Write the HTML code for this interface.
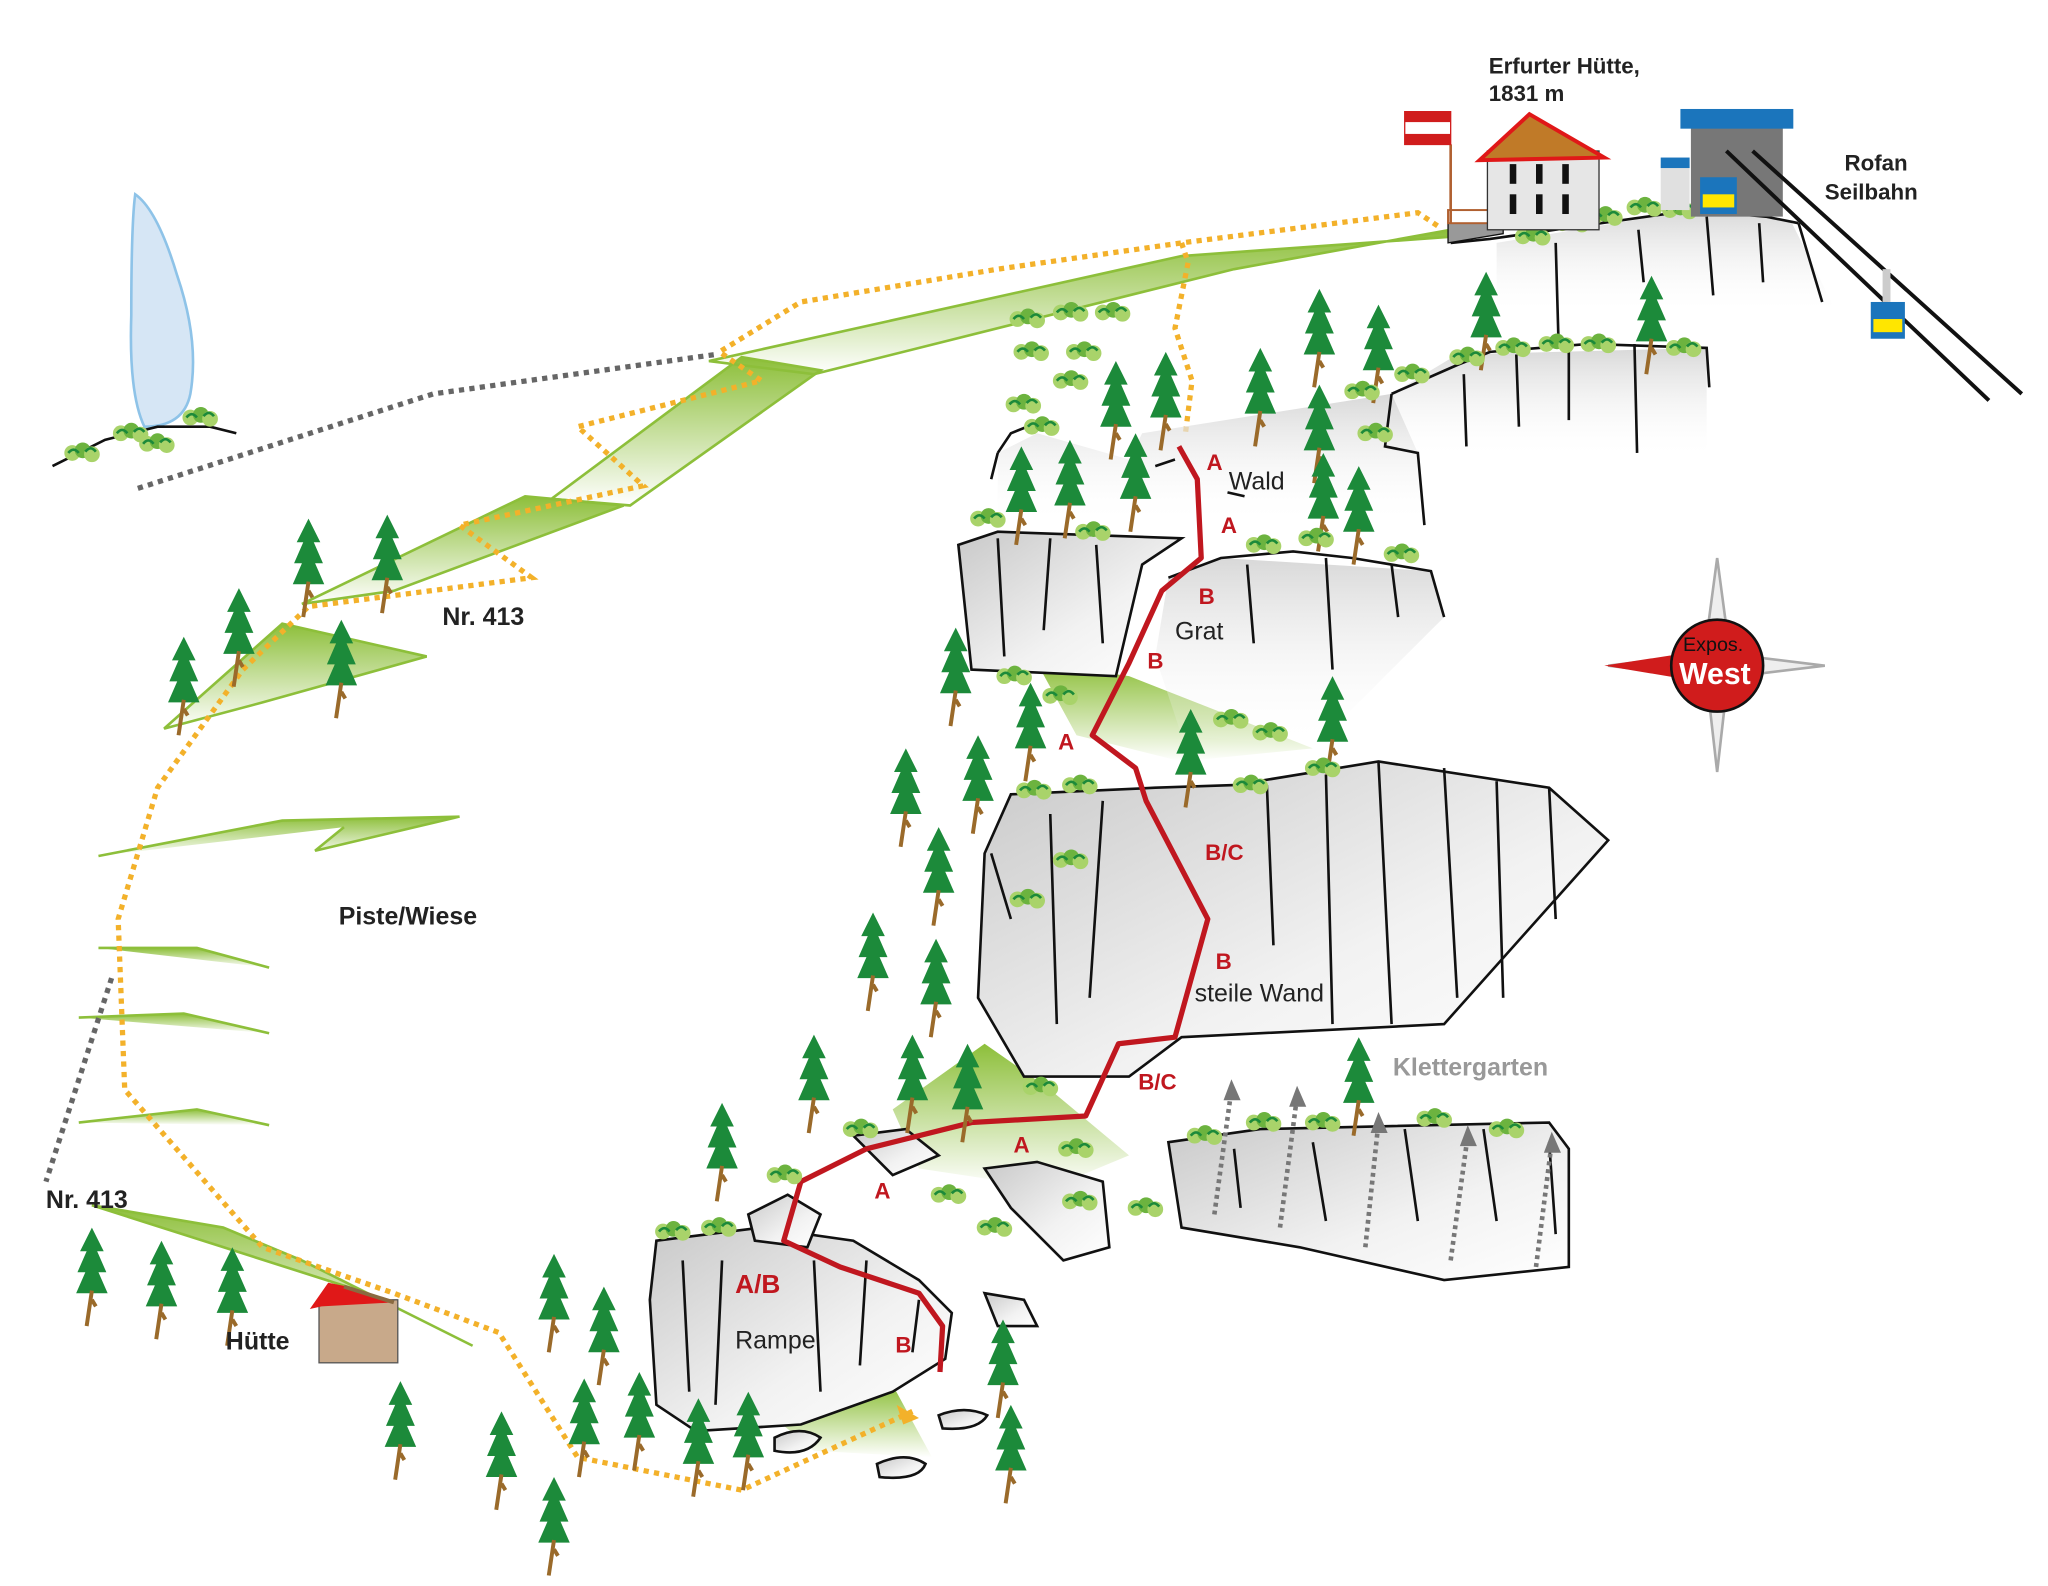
<!DOCTYPE html>
<html><head><meta charset="utf-8"><style>
html,body{margin:0;padding:0;background:#fff;}
svg{display:block}
text{font-family:"Liberation Sans",Arial,sans-serif;}
</style></head><body>
<svg width="2048" height="1586" viewBox="0 0 1560 1208" preserveAspectRatio="none" xmlns="http://www.w3.org/2000/svg">
<defs>
<linearGradient id="g" x1="0" y1="0" x2="0" y2="1"><stop offset="0" stop-color="#8dbf3a"/><stop offset="1" stop-color="#8dbf3a" stop-opacity="0"/></linearGradient>
<linearGradient id="r" x1="0" y1="0" x2="1" y2="1"><stop offset="0" stop-color="#c9c9c9"/><stop offset="0.6" stop-color="#f2f2f2"/><stop offset="1" stop-color="#fff"/></linearGradient>
<linearGradient id="r2" x1="0" y1="0" x2="0" y2="1"><stop offset="0" stop-color="#d8d8d8"/><stop offset="1" stop-color="#fff" stop-opacity="0"/></linearGradient>
<g id="t"><path d="M0,0 L-9,18 L-4,18 L-11,34 L-5,34 L-12,50 L12,50 L5,34 L11,34 L4,18 L9,18 Z" fill="#1c8a3a"/><path d="M0,48 L-4,75 M0,55 L3,60" stroke="#9a6a2a" stroke-width="3" fill="none"/></g>
<g id="b"><circle cx="0" cy="0" r="6" fill="#a9d36a"/><circle cx="8" cy="-2" r="6" fill="#6cb33f"/><circle cx="15" cy="1" r="6" fill="#a9d36a"/><path d="M-3,0 q4,-5 8,0 M10,-1 q4,-5 8,0" stroke="#1c8a3a" stroke-width="2" fill="none"/></g>
</defs>
<path d="M103,148 Q120,160 135,210 Q152,260 145,300 Q140,325 110,325 Q98,300 100,240 Q100,170 103,148Z" fill="#d6e6f5" stroke="#8ec3e8" stroke-width="2"/>
<path d="M40,355 L80,335 L120,325 L160,325 L180,330" stroke="#111" stroke-width="2" fill="none"/>
<path d="M540,275 L900,195 L1110,180 L1105,175 L940,205 L620,285 Z" fill="url(#g)" stroke="#8dbf3a" stroke-width="2"/>
<path d="M420,380 L565,272 L625,282 L480,385 Z" fill="url(#g)" stroke="#8dbf3a" stroke-width="2"/>
<path d="M230,460 L400,378 L475,385 L300,450 Z" fill="url(#g)" stroke="#8dbf3a" stroke-width="2"/>
<path d="M125,555 L215,475 L325,500 L200,535 Z" fill="url(#g)" stroke="#8dbf3a" stroke-width="2"/>
<path d="M75,652 L215,625 L350,622 L240,648 L262,630" fill="url(#g)" stroke="#8dbf3a" stroke-width="2"/>
<path d="M75,722 L150,722 L205,737" fill="url(#g)" stroke="#8dbf3a" stroke-width="2"/>
<path d="M60,775 L140,772 L205,787" fill="url(#g)" stroke="#8dbf3a" stroke-width="2"/>
<path d="M60,855 L150,845 L205,857" fill="url(#g)" stroke="#8dbf3a" stroke-width="2"/>
<path d="M70,918 L170,935 L230,960 L360,1025 L280,985 Z" fill="url(#g)" stroke="#8dbf3a" stroke-width="2"/>
<path d="M790,505 L860,515 L1000,570 L900,580 L820,560 Z" fill="url(#g)"/>
<path d="M680,845 L750,795 L800,830 L860,880 L800,905 L700,890 Z" fill="url(#g)"/>
<path d="M590,1080 L680,1055 L710,1110 L620,1105 Z" fill="url(#g)"/>
<path d="M105,372 L330,300 L545,270" stroke="#666" stroke-width="4" stroke-dasharray="4,4" fill="none"/>
<path d="M85,745 L35,900" stroke="#666" stroke-width="4" stroke-dasharray="4,4" fill="none"/>
<path d="M1095,172 L1080,162 L900,185 L760,205 L610,230 L548,268 L580,290 L440,325 L490,370 L350,400 L405,440 L235,462 L185,510 L120,600 L90,700 L95,830 L200,950 L300,985 L380,1015 L440,1110 L565,1135 L695,1075" stroke="#f3b12a" stroke-width="4" stroke-dasharray="4,4" fill="none"/>
<path d="M900,185 L905,200 L895,250 L908,290 L903,330" stroke="#f3b12a" stroke-width="4" stroke-dasharray="4,4" fill="none"/>
<path d="M683,1070 L700,1080 L688,1085Z" fill="#f3b12a"/>
<g fill="url(#r2)" stroke="none">
<path d="M1140,185 L1290,160 L1345,165 L1365,170 L1400,240 L1140,240 Z"/>
<path d="M1060,300 L1110,270 L1300,265 L1300,350 L1060,350 Z"/>
<path d="M760,345 L790,330 L860,350 L870,330 L1060,300 L1080,345 L1085,400 L760,400Z"/>
<path d="M890,440 L930,425 L1090,435 L1100,470 L1000,570 L900,560 L880,500 Z"/>
</g>
<g fill="url(#r)" stroke="#111" stroke-width="2">
<path d="M730,415 L760,405 L900,410 L870,430 L850,515 L740,510 Z"/>
<path d="M770,605 L880,600 L940,598 L1050,580 L1180,600 L1225,640 L1100,780 L900,790 L860,820 L780,820 L745,760 L750,650 Z"/>
<path d="M890,870 L960,860 L1180,855 L1195,875 L1195,965 L1100,975 L990,950 L900,935 Z"/>
<path d="M500,945 L580,935 L650,945 L700,975 L725,1000 L720,1035 L680,1060 L610,1085 L530,1090 L500,1070 L495,990 Z"/>
<path d="M570,925 L600,910 L625,925 L615,950 L575,945 Z"/>
<path d="M750,890 L790,885 L840,900 L845,950 L810,960 L770,920 Z"/>
<path d="M650,865 L690,860 L715,880 L680,895 Z"/>
<path d="M590,1095 Q610,1085 625,1095 Q615,1110 590,1105Z"/>
<path d="M668,1115 Q690,1105 705,1115 Q700,1128 670,1125Z"/>
<path d="M715,1078 Q735,1070 752,1078 Q745,1090 718,1088Z"/>
<path d="M750,985 L780,990 L790,1010 L760,1010Z"/>
</g>
<g stroke="#111" stroke-width="2" fill="none">
<path d="M1105,185 L1135,182 L1290,160 L1345,165 L1370,170"/>
<path d="M1185,185 L1187,255 M1248,175 L1252,215 M1300,165 L1305,225 M1340,170 L1343,215 M1370,170 L1388,230"/>
<path d="M1060,300 L1110,278 L1135,268 L1210,262 L1300,265 L1302,295 M1115,285 L1117,340 M1155,270 L1157,325 M1195,265 L1195,320 M1245,262 L1247,345"/>
<path d="M760,345 L770,330 L790,322 M760,345 L755,365 M1060,300 L1055,340 L1080,345 L1085,400"/>
<path d="M880,355 L895,350 M935,375 L948,378"/>
<path d="M800,410 L795,480 M835,415 L840,490 M760,410 L765,500"/>
<path d="M890,440 L930,425 L985,420 L1030,425 L1090,435 L1100,470 M950,430 L955,490 M1010,425 L1015,510 M1060,430 L1065,470"/>
<path d="M800,620 L805,780 M840,610 L830,760 M965,598 L970,720 M1010,590 L1015,780 M1050,580 L1060,780 M1100,585 L1110,760 M1140,595 L1145,760 M1180,600 L1185,700 M755,650 L770,700"/>
<path d="M940,875 L945,920 M1000,870 L1010,930 M1070,860 L1080,930 M1130,860 L1140,930 M1180,870 L1185,940"/>
<path d="M520,960 L525,1060 M550,960 L545,1070 M620,960 L625,1060 M660,960 L655,1040 M700,990 L695,1030"/>
</g>
<g stroke="#777" stroke-width="3.5" stroke-dasharray="3,3" fill="none">
<path d="M925,925 L938,830"/><path d="M975,935 L988,835"/><path d="M1040,950 L1050,855"/><path d="M1105,960 L1118,865"/><path d="M1170,965 L1182,870"/>
</g>
<g fill="#777"><path d="M932,838 L938,822 L945,838Z"/><path d="M982,843 L988,827 L995,843Z"/><path d="M1044,863 L1050,847 L1057,863Z"/><path d="M1112,873 L1118,857 L1125,873Z"/><path d="M1176,878 L1182,862 L1189,878Z"/></g>
<path d="M898,340 L912,365 L915,425 L885,450 L860,505 L832,560 L865,585 L873,610 L920,700 L895,790 L852,795 L827,850 L740,855 L660,875 L610,900 L597,945 L640,965 L700,985 L718,1010 L716,1045" stroke="#c0171f" stroke-width="4" fill="none" stroke-linejoin="round"/>
<g>
<use href="#t" x="235" y="395"/><use href="#t" x="295" y="392"/><use href="#t" x="182" y="448"/><use href="#t" x="140" y="485"/><use href="#t" x="260" y="472"/>
<use href="#t" x="70" y="935"/><use href="#t" x="123" y="945"/><use href="#t" x="177" y="950"/><use href="#t" x="305" y="1052"/><use href="#t" x="382" y="1075"/><use href="#t" x="422" y="955"/><use href="#t" x="460" y="980"/><use href="#t" x="445" y="1050"/><use href="#t" x="487" y="1045"/><use href="#t" x="532" y="1065"/><use href="#t" x="570" y="1060"/><use href="#t" x="422" y="1125"/><use href="#t" x="550" y="840"/>
<use href="#t" x="620" y="788"/><use href="#t" x="695" y="788"/><use href="#t" x="737" y="795"/><use href="#t" x="665" y="695"/><use href="#t" x="713" y="715"/><use href="#t" x="715" y="630"/><use href="#t" x="690" y="570"/><use href="#t" x="745" y="560"/><use href="#t" x="728" y="478"/><use href="#t" x="785" y="520"/><use href="#t" x="907" y="540"/><use href="#t" x="1015" y="515"/>
<use href="#t" x="778" y="340"/><use href="#t" x="815" y="335"/><use href="#t" x="850" y="275"/><use href="#t" x="888" y="268"/><use href="#t" x="865" y="330"/><use href="#t" x="960" y="265"/><use href="#t" x="1005" y="220"/><use href="#t" x="1050" y="232"/><use href="#t" x="1005" y="293"/><use href="#t" x="1008" y="345"/><use href="#t" x="1035" y="355"/><use href="#t" x="1132" y="207"/><use href="#t" x="1258" y="210"/><use href="#t" x="1035" y="790"/><use href="#t" x="764" y="1005"/><use href="#t" x="770" y="1070"/>
</g>
<g>
<use href="#b" x="55" y="345"/><use href="#b" x="92" y="330"/><use href="#b" x="145" y="318"/><use href="#b" x="112" y="338"/>
<use href="#b" x="775" y="243"/><use href="#b" x="808" y="238"/><use href="#b" x="840" y="238"/><use href="#b" x="778" y="268"/><use href="#b" x="818" y="268"/><use href="#b" x="808" y="290"/><use href="#b" x="772" y="308"/><use href="#b" x="786" y="325"/>
<use href="#b" x="1160" y="180"/><use href="#b" x="1190" y="170"/><use href="#b" x="1215" y="165"/><use href="#b" x="1245" y="158"/><use href="#b" x="1272" y="160"/>
<use href="#b" x="1030" y="298"/><use href="#b" x="1068" y="285"/><use href="#b" x="1110" y="272"/><use href="#b" x="1145" y="265"/><use href="#b" x="1178" y="262"/><use href="#b" x="1210" y="262"/><use href="#b" x="1275" y="265"/><use href="#b" x="1040" y="330"/>
<use href="#b" x="745" y="395"/><use href="#b" x="825" y="405"/><use href="#b" x="955" y="415"/><use href="#b" x="995" y="410"/><use href="#b" x="1060" y="422"/>
<use href="#b" x="765" y="515"/><use href="#b" x="800" y="530"/><use href="#b" x="930" y="548"/><use href="#b" x="960" y="558"/><use href="#b" x="1000" y="585"/><use href="#b" x="780" y="602"/><use href="#b" x="815" y="598"/><use href="#b" x="945" y="598"/><use href="#b" x="808" y="655"/><use href="#b" x="775" y="685"/>
<use href="#b" x="785" y="828"/><use href="#b" x="648" y="860"/><use href="#b" x="590" y="895"/><use href="#b" x="812" y="875"/><use href="#b" x="715" y="910"/><use href="#b" x="815" y="915"/><use href="#b" x="865" y="920"/><use href="#b" x="750" y="935"/><use href="#b" x="505" y="938"/><use href="#b" x="540" y="935"/>
<use href="#b" x="910" y="865"/><use href="#b" x="955" y="855"/><use href="#b" x="1000" y="855"/><use href="#b" x="1085" y="852"/><use href="#b" x="1140" y="860"/>
</g>
<path d="M1103,185 L1103,170 L1145,170 L1145,178 Z" fill="#999" stroke="#111"/>
<rect x="1103" y="160" width="35" height="10" fill="none" stroke="#b06030" stroke-width="1.5"/>
<line x1="1105" y1="110" x2="1105" y2="170" stroke="#b06030" stroke-width="2"/>
<path d="M1070,85 L1105,85 L1105,110 L1070,110 Z" fill="#fff" stroke="#d01c1c" stroke-width="1"/>
<rect x="1070" y="85" width="35" height="8" fill="#d01c1c"/><rect x="1070" y="102" width="35" height="8" fill="#d01c1c"/>
<rect x="1133" y="115" width="85" height="60" fill="#e6e6e6" stroke="#333"/>
<path d="M1127,122 L1165,87 L1222,120 Z" fill="#c07a28" stroke="#e01818" stroke-width="3"/>
<g fill="#111"><rect x="1150" y="125" width="5" height="15"/><rect x="1170" y="125" width="5" height="15"/><rect x="1190" y="125" width="5" height="15"/><rect x="1150" y="148" width="5" height="15"/><rect x="1170" y="148" width="5" height="15"/><rect x="1190" y="148" width="5" height="15"/></g>
<rect x="1265" y="125" width="22" height="35" fill="#e0e0e0"/><rect x="1265" y="120" width="22" height="8" fill="#1b75bc"/>
<rect x="1288" y="95" width="70" height="70" fill="#777"/><rect x="1280" y="83" width="86" height="15" fill="#1b75bc"/>
<line x1="1315" y1="115" x2="1515" y2="305" stroke="#111" stroke-width="3"/><line x1="1335" y1="115" x2="1540" y2="300" stroke="#111" stroke-width="3"/>
<rect x="1295" y="135" width="28" height="28" fill="#1b75bc"/><rect x="1297" y="148" width="24" height="10" fill="#ffe600"/>
<rect x="1425" y="230" width="26" height="28" fill="#1b75bc"/><rect x="1427" y="243" width="22" height="10" fill="#ffe600"/><rect x="1434" y="205" width="6" height="25" fill="#ccc"/>
<rect x="243" y="990" width="60" height="48" fill="#c8a98a" stroke="#555"/>
<path d="M236,997 L250,977 L265,980 L300,992 L245,995Z" fill="#e01818"/>
<path d="M262,980 L300,992" stroke="#8a6a40" stroke-width="3"/>
<path d="M1308,425 L1318,500 L1308,588 L1298,500 Z" fill="#eee" stroke="#aaa" stroke-width="2"/>
<path d="M1225,507 L1308,497 L1390,507 L1308,517 Z" fill="#eee" stroke="#aaa" stroke-width="2"/>
<path d="M1222,507 L1300,495 L1300,520 Z" fill="#d01c1c"/>
<circle cx="1308" cy="507" r="35" fill="#d01c1c" stroke="#111" stroke-width="2"/>
<g font-weight="bold" fill="#222">
<text x="1134" y="56" font-size="17">Erfurter Hütte,</text>
<text x="1134" y="77" font-size="17">1831 m</text>
<text x="1405" y="130" font-size="17">Rofan</text>
<text x="1390" y="152" font-size="17">Seilbahn</text>
<text x="337" y="476" font-size="19">Nr. 413</text>
<text x="258" y="704" font-size="19">Piste/Wiese</text>
<text x="35" y="920" font-size="19">Nr. 413</text>
<text x="172" y="1028" font-size="19">Hütte</text>
<text x="1061" y="819" font-size="19" fill="#999">Klettergarten</text>
<text x="1282" y="496" font-size="15" fill="#111" font-weight="normal">Expos.</text>
<text x="1279" y="521" font-size="23" fill="#fff">West</text>
</g>
<g fill="#222" font-size="19">
<text x="936" y="373">Wald</text><text x="895" y="487">Grat</text><text x="910" y="763">steile Wand</text><text x="560" y="1027">Rampe</text>
</g>
<g fill="#c0171f" font-weight="bold" font-size="17">
<text x="919" y="358">A</text><text x="930" y="406">A</text><text x="913" y="460">B</text><text x="874" y="509">B</text><text x="806" y="571">A</text><text x="918" y="655">B/C</text><text x="926" y="738">B</text><text x="867" y="830">B/C</text><text x="772" y="878">A</text><text x="666" y="913">A</text><text x="560" y="985" font-size="20">A/B</text><text x="682" y="1030">B</text>
</g>
</svg>
</body></html>
